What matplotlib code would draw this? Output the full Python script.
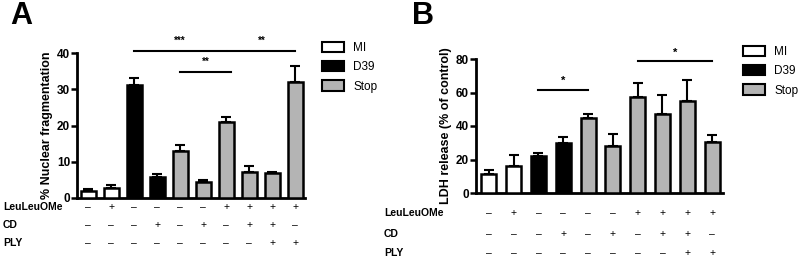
import matplotlib
matplotlib.use("Agg")
import matplotlib.pyplot as plt
from matplotlib.patches import Patch
from matplotlib.transforms import blended_transform_factory

plt.rcParams['font.family'] = ['Liberation Sans', 'DejaVu Sans']

groups = ["MI", "MI", "D39", "D39", "Stop", "Stop", "Stop", "Stop", "Stop", "Stop"]
leu = ["–", "+", "–", "–", "–", "–", "+", "+", "+", "+"]
cd = ["–", "–", "–", "+", "–", "+", "–", "+", "+", "–"]
ply = ["–", "–", "–", "–", "–", "–", "–", "–", "+", "+"]

a_vals = [1.8, 2.7, 31.3, 5.7, 13.1, 4.3, 21.0, 7.2, 7.0, 32.0]
a_errs = [0.7, 0.8, 1.9, 0.8, 1.6, 0.7, 1.3, 1.6, 0.1, 4.4]
b_vals = [11.6, 15.9, 22.0, 29.6, 44.8, 28.0, 57.3, 46.9, 54.8, 30.4]
b_errs = [2.0, 6.5, 2.0, 3.6, 2.2, 7.0, 8.4, 11.6, 12.9, 4.2]

colors = {"MI": "white", "D39": "black", "Stop": "#b4b4b4"}
W, H = 800, 259

fig = plt.figure(figsize=(8, 2.59), dpi=100)

def px_axes(left, right, y0, ytop):
    return fig.add_axes([left / W, (H - y0) / H, (right - left) / W, (y0 - ytop) / H])

def style(ax, ylim, yticks):
    ax.set_ylim(*ylim)
    ax.set_yticks(yticks)
    for s in ["top", "right"]:
        ax.spines[s].set_visible(False)
    for s in ["left", "bottom"]:
        ax.spines[s].set_linewidth(2)
    ax.tick_params(axis='y', width=1.8, length=4, labelsize=8.5, pad=1)
    for t in ax.get_yticklabels():
        t.set_fontweight('bold')
    ax.set_xticks([])

def draw(ax, vals, errs, width):
    x = list(range(len(vals)))
    ax.bar(x, vals, width=width, color=[colors[g] for g in groups],
           edgecolor='black', linewidth=1.8, zorder=3)
    ax.errorbar(x, vals, yerr=[[0]*len(errs), errs], fmt='none',
                ecolor='black', elinewidth=1.5, capsize=3.5, capthick=1.5, zorder=2)

def table(ax, ys, labx):
    tr = blended_transform_factory(ax.transData, fig.transFigure)
    for row, lab, yp in zip([leu, cd, ply], ["LeuLeuOMe", "CD", "PLY"], ys):
        fig.text(labx / W, (H - yp) / H, lab, fontsize=7.5, fontweight='bold', va='center')
        for i, s in enumerate(row):
            ax.text(i, (H - yp) / H, s, transform=tr, ha='center', va='center', fontsize=7.5)

def legend(ax, x, y):
    handles = [Patch(facecolor=colors[k], edgecolor='black', linewidth=1.5, label=k) for k in ["MI", "D39", "Stop"]]
    ax.legend(handles=handles, loc='upper left', bbox_to_anchor=(x / W, (H - y) / H),
              bbox_transform=fig.transFigure, frameon=False, fontsize=8.5,
              handlelength=1.85, handleheight=0.95, labelspacing=0.6, handletextpad=0.8,
              borderaxespad=0, borderpad=0)

# Panel A
axA = px_axes(77, 305, 198, 53)
axA.set_xlim(-0.48, 9.43)
style(axA, (0, 40), [0, 10, 20, 30, 40])
draw(axA, a_vals, a_errs, 0.65)
axA.set_ylabel("% Nuclear fragmentation", fontsize=9, fontweight='bold', labelpad=3)
for x0, x1, yl, lab in [(2, 6, 40.5, "***"), (6.1, 9.0, 40.5, "**"), (4.0, 6.2, 34.8, "**")]:
    axA.plot([x0, x1], [yl, yl], color='black', lw=1.5, clip_on=False)
    axA.text((x0 + x1) / 2, yl + 1.5, lab, ha='center', va='bottom', fontsize=7, fontweight='bold')
table(axA, [207, 225, 243], 3)
legend(axA, 322, 42)
fig.text(10 / W, (H - 16) / H, "A", fontsize=22, fontweight='bold', va='center')

# Panel B
axB = px_axes(476, 723, 193, 59)
axB.set_xlim(-0.52, 9.44)
style(axB, (0, 80), [0, 20, 40, 60, 80])
draw(axB, b_vals, b_errs, 0.6)
axB.set_ylabel("LDH release (% of control)", fontsize=9, fontweight='bold', labelpad=3)
for x0, x1, yl, lab in [(2, 4, 61.7, "*"), (6.0, 9.0, 78.6, "*")]:
    axB.plot([x0, x1], [yl, yl], color='black', lw=1.5, clip_on=False)
    axB.text((x0 + x1) / 2, yl + 2, lab, ha='center', va='bottom', fontsize=8, fontweight='bold')
table(axB, [213, 234, 253], 384)
legend(axB, 743, 46)
fig.text(412 / W, (H - 16) / H, "B", fontsize=22, fontweight='bold', va='center')

fig.savefig("out.png", dpi=100, facecolor='white')
